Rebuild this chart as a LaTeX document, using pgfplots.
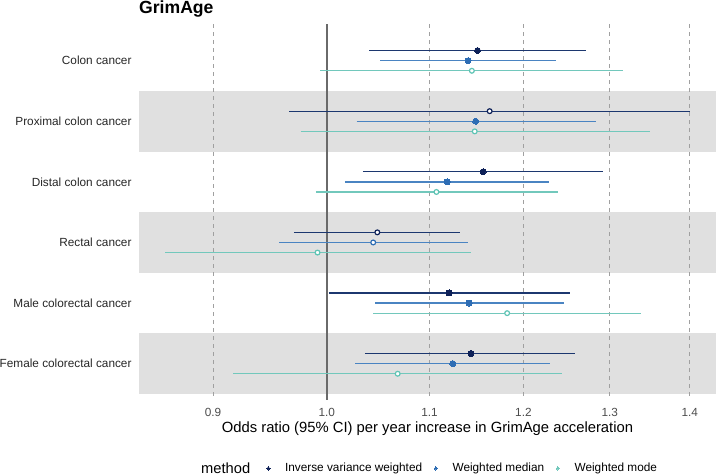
\documentclass[border=0pt]{standalone}
\usepackage{pgfplots}
\pgfplotsset{compat=1.18}
\usepackage{fontspec}
\setmainfont{Liberation Sans}
\definecolor{ivw}{HTML}{0E2158}
\definecolor{ivwl}{HTML}{1C376F}
\definecolor{wm}{HTML}{2E6DB4}
\definecolor{wml}{HTML}{4A84C2}
\definecolor{wmo}{HTML}{5FC4B5}
\definecolor{wmol}{HTML}{72C8BC}
\definecolor{band}{HTML}{E0E0E0}
\definecolor{gridc}{HTML}{A0A0A0}
\definecolor{onec}{HTML}{6A6A6A}
\begin{document}
\begin{tikzpicture}
\path[use as bounding box] (0,0) rectangle (716pt,475pt);
\begin{axis}[
  at={(139pt,75pt)}, anchor=south west,
  scale only axis, width=577pt, height=375.7pt,
  xmode=log, xmin=0.8403, xmax=1.4345,
  ymin=0.4, ymax=6.6, y dir=reverse,
  axis line style={draw=none},
  major tick length=0pt,
  xtick={0.9,1,1.1,1.2,1.3,1.4},
  xticklabels={0.9,1.0,1.1,1.2,1.3,1.4},
  ytick={1,2,3,4,5,6},
  yticklabels={Colon cancer,Proximal colon cancer,Distal colon cancer,Rectal cancer,Male colorectal cancer,Female colorectal cancer},
  xticklabel style={anchor=base, inner sep=0pt, yshift=-16pt, text=black!70, font=\fontsize{11.8}{14}\selectfont},
  yticklabel style={anchor=base east, inner sep=0pt, xshift=-7.3pt, yshift=-4.3pt, text=black!85, font=\fontsize{11.8}{14}\selectfont},
  legend columns=3,
  legend style={at={(axis description cs:0.2213,-0.182)}, anchor=west, draw=none, fill=none,
     inner sep=0pt, outer sep=0pt, font=\fontsize{11.8}{14}\selectfont,
     /tikz/every odd column/.append style={column sep=13pt},
     /tikz/every even column/.append style={column sep=10pt}},
  legend image code/.code={\draw[#1] plot coordinates {(0pt,0pt)};},
]
% bands
\addplot[fill=band, draw=none, forget plot] coordinates {(0.8403,1.5) (1.4345,1.5) (1.4345,2.5) (0.8403,2.5)} -- cycle;
\addplot[fill=band, draw=none, forget plot] coordinates {(0.8403,3.5) (1.4345,3.5) (1.4345,4.5) (0.8403,4.5)} -- cycle;
\addplot[fill=band, draw=none, forget plot] coordinates {(0.8403,5.5) (1.4345,5.5) (1.4345,6.5) (0.8403,6.5)} -- cycle;
% reference lines
\addplot[gridc, dash pattern=on 4pt off 4pt, line width=0.7pt, forget plot, unbounded coords=jump] coordinates {
 (0.9,0.4) (0.9,6.6) (nan,nan) (1.1,0.4) (1.1,6.6) (nan,nan) (1.2,0.4) (1.2,6.6) (nan,nan)
 (1.3,0.4) (1.3,6.6) (nan,nan) (1.4,0.4) (1.4,6.6)};
\addplot[onec, line width=1.5pt, forget plot] coordinates {(1.0,0.4) (1.0,6.6)};
% intervals: inverse variance weighted
\addplot[ivwl, line width=1.3pt, mark=none, unbounded coords=jump, forget plot] coordinates {
 (1.040,0.8333) (1.272,0.8333) (nan,nan)
 (0.966,1.8333) (1.400,1.8333) (nan,nan)
 (1.034,2.8333) (1.292,2.8333) (nan,nan)
 (0.970,3.8333) (1.131,3.8333) (nan,nan)
 (1.002,4.8333) (1.253,4.8333) (nan,nan)
 (1.036,5.8333) (1.259,5.8333)};
% weighted median
\addplot[wml, line width=1.3pt, mark=none, unbounded coords=jump, forget plot] coordinates {
 (1.051,1) (1.237,1) (nan,nan)
 (1.028,2) (1.283,2) (nan,nan)
 (1.017,3) (1.229,3) (nan,nan)
 (0.957,4) (1.140,4) (nan,nan)
 (1.046,5) (1.246,5) (nan,nan)
 (1.027,6) (1.230,6)};
% weighted mode
\addplot[wmol, line width=1.3pt, mark=none, unbounded coords=jump, forget plot] coordinates {
 (0.994,1.1667) (1.316,1.1667) (nan,nan)
 (0.976,2.1667) (1.349,2.1667) (nan,nan)
 (0.990,3.1667) (1.239,3.1667) (nan,nan)
 (0.861,4.1667) (1.143,4.1667) (nan,nan)
 (1.044,5.1667) (1.338,5.1667) (nan,nan)
 (0.917,6.1667) (1.244,6.1667)};
% points
\addplot[only marks, mark=*, mark size=3pt, mark options={fill=ivw, draw=ivw, line width=0pt}, forget plot] coordinates {
 (1.150,0.8333) (1.156,2.8333) (1.120,4.8333) (1.143,5.8333)};
\addplot[only marks, mark=*, mark size=2.4pt, mark options={fill=white, draw=ivw, line width=1.2pt}, forget plot] coordinates {
 (1.163,1.8333) (1.048,3.8333)};
\addplot[only marks, mark=*, mark size=3pt, mark options={fill=wm, draw=wm, line width=0pt}, forget plot] coordinates {
 (1.140,1) (1.148,2) (1.118,3) (1.141,5) (1.124,6)};
\addplot[only marks, mark=*, mark size=2.4pt, mark options={fill=white, draw=wm, line width=1.2pt}, forget plot] coordinates {
 (1.044,4)};
\addplot[only marks, mark=*, mark size=2.4pt, mark options={fill=white, draw=wmo, line width=1.2pt}, forget plot] coordinates {
 (1.144,1.1667) (1.147,2.1667) (1.107,3.1667) (0.9915,4.1667) (1.182,5.1667) (1.068,6.1667)};
% legend
\addlegendimage{only marks, mark=*, mark size=1.7pt, mark options={fill=ivw, draw=ivw, line width=0pt}}
\addlegendentry{Inverse variance weighted}
\addlegendimage{only marks, mark=*, mark size=1.7pt, mark options={fill=wm, draw=wm, line width=0pt}}
\addlegendentry{Weighted median}
\addlegendimage{only marks, mark=*, mark size=1.7pt, mark options={fill=wmol, draw=wmol, line width=0pt}}
\addlegendentry{Weighted mode}
\end{axis}
\node[anchor=base west, inner sep=0pt, font=\bfseries\fontsize{17.6}{20}\selectfont] at (139pt,461.5pt) {GrimAge};
\node[anchor=base, inner sep=0pt, font=\fontsize{14.8}{17}\selectfont] at (427.5pt,42.3pt) {Odds ratio (95\% CI) per year increase in GrimAge acceleration};
\node[anchor=base west, inner sep=0pt, font=\fontsize{14.7}{17}\selectfont] at (201pt,1.9pt) {method};
\end{tikzpicture}
\end{document}
